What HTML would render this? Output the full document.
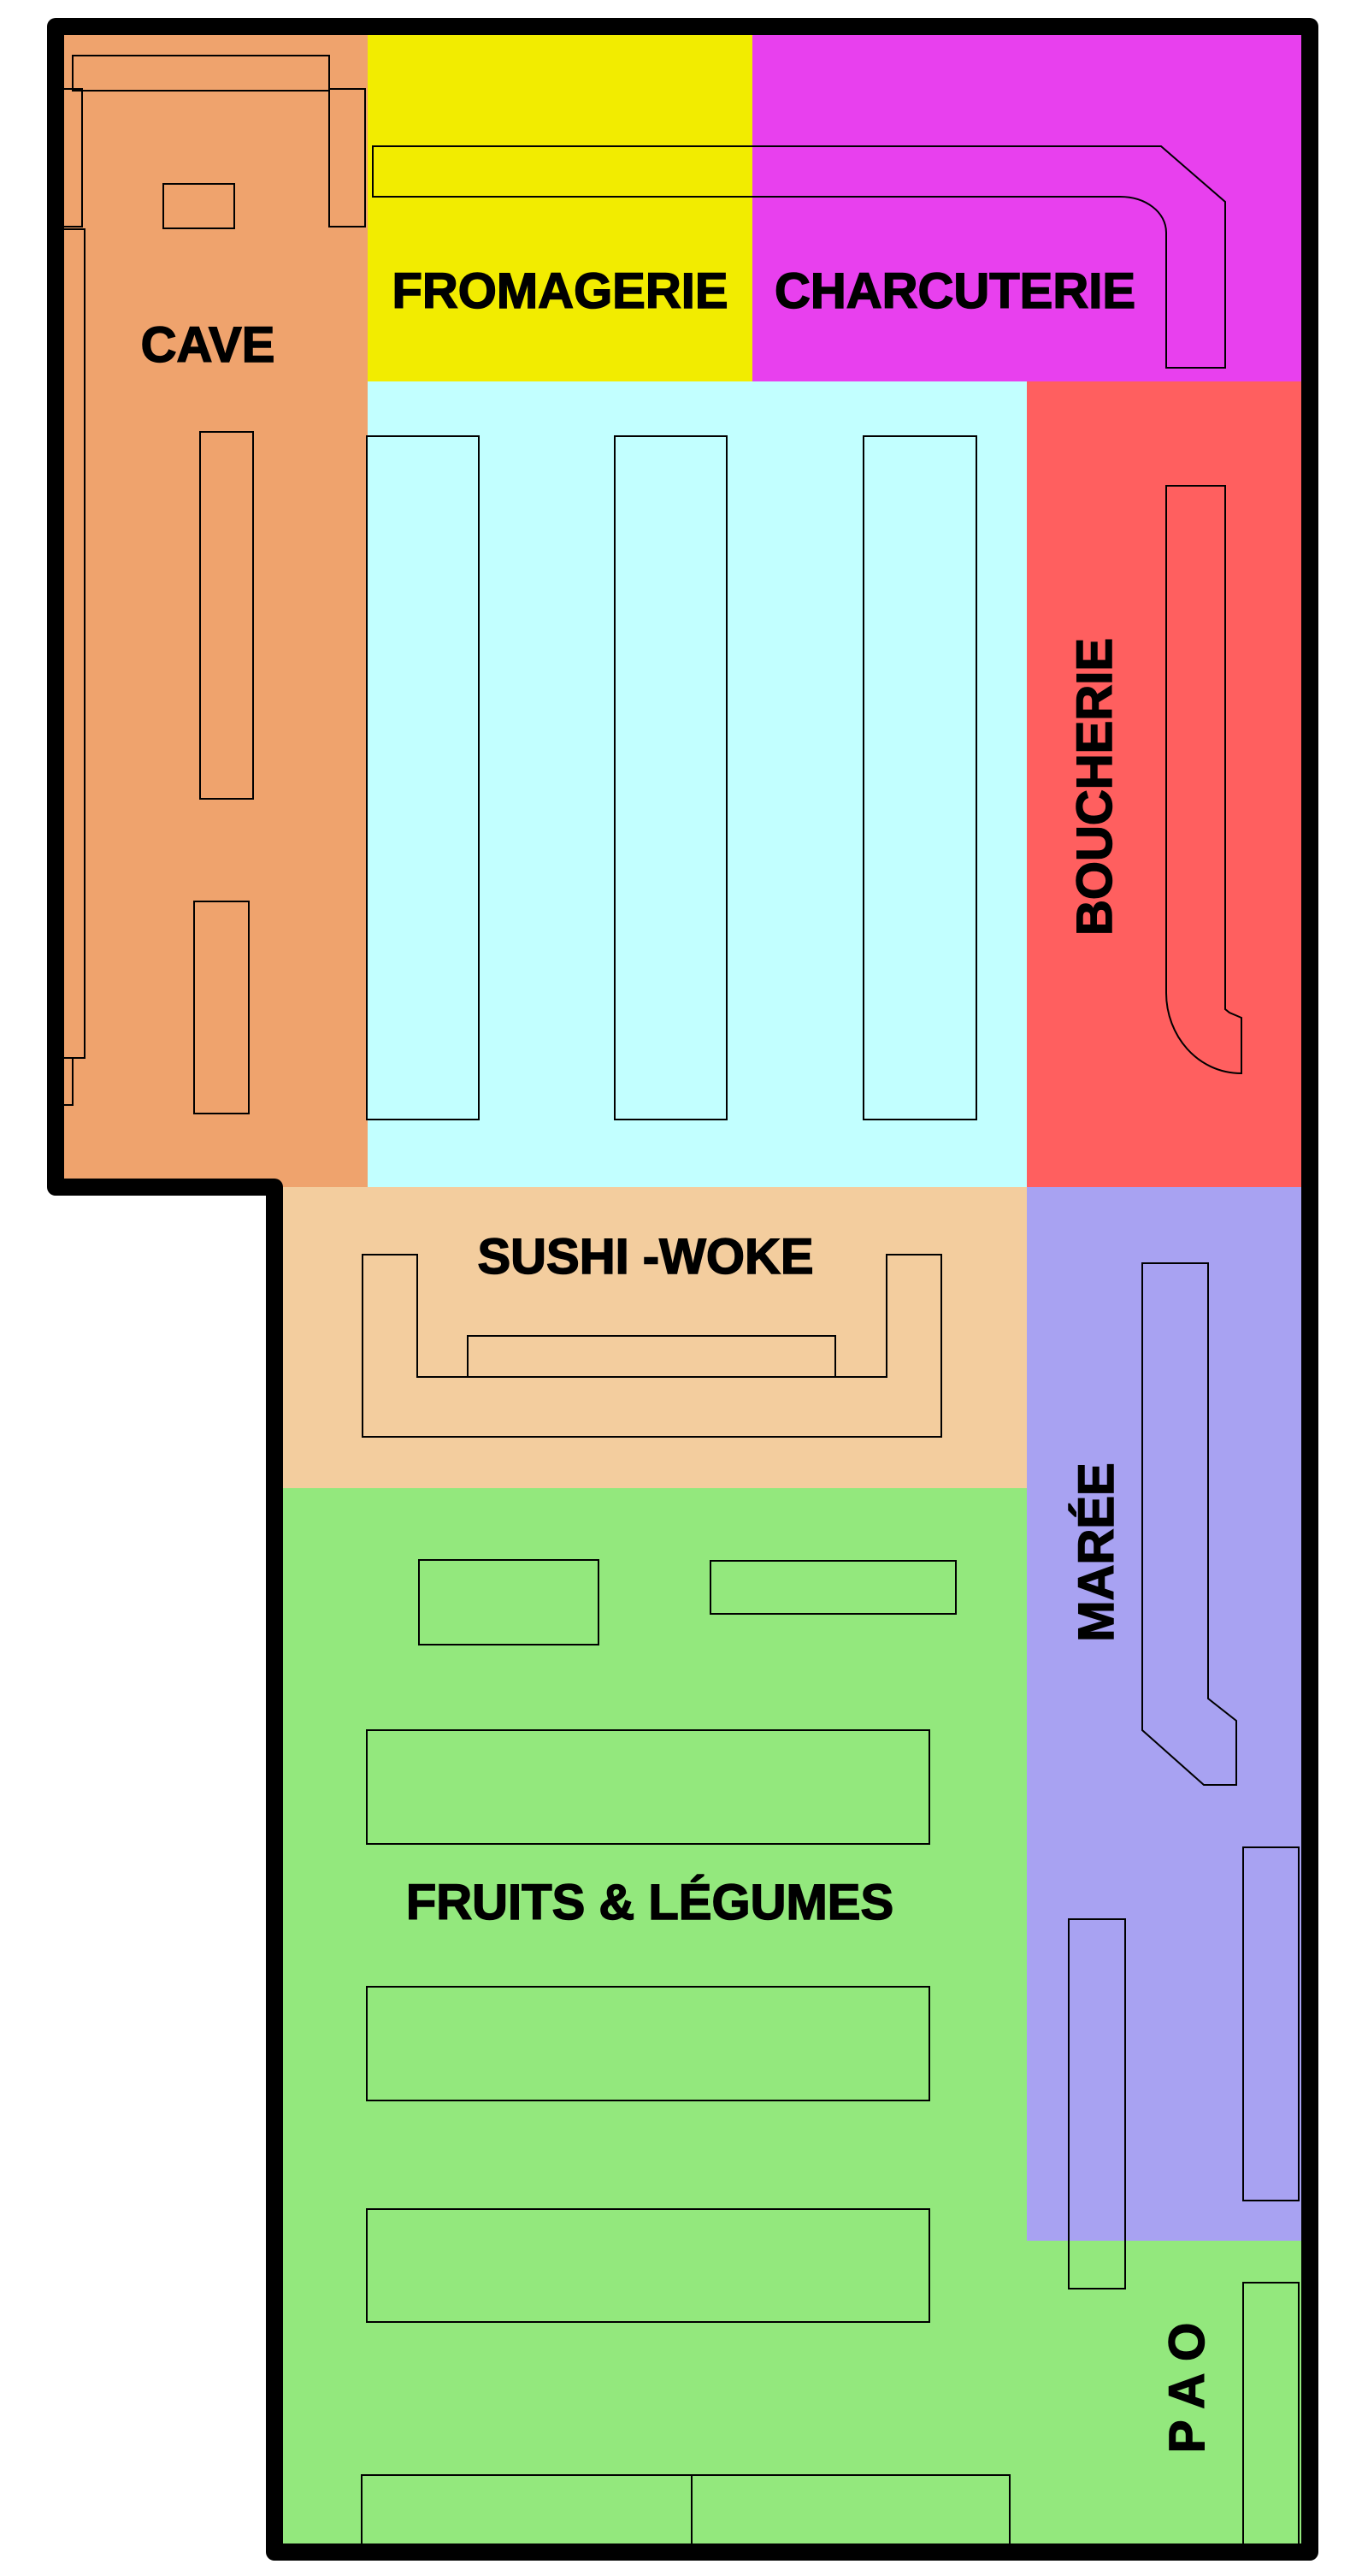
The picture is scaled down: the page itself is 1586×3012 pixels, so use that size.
<!DOCTYPE html>
<html><head><meta charset="utf-8"><style>html,body{margin:0;padding:0;background:#fff}svg{display:block}</style></head>
<body>
<svg width="1586" height="3012" viewBox="0 0 1586 3012" xmlns="http://www.w3.org/2000/svg">
<g stroke="none">
<rect x="65" y="31" width="366" height="1357" fill="#EFA36D"/>
<rect x="430" y="31" width="451" height="415" fill="#F2EC00"/>
<rect x="880" y="31" width="652" height="415" fill="#E840EE"/>
<rect x="430" y="446" width="772" height="943" fill="#C2FFFF"/>
<rect x="1201" y="446" width="331" height="943" fill="#FF5F5F"/>
<rect x="321" y="1388" width="881" height="352" fill="#F3CD9E"/>
<rect x="321" y="1740" width="881" height="1244" fill="#93E87D"/>
<rect x="1201" y="1388" width="331" height="1232" fill="#A8A2F2"/>
<rect x="1201" y="2620" width="331" height="364" fill="#93E87D"/>
</g>
<g fill="none" stroke="#000" stroke-width="2">
<rect x="85" y="65" width="300" height="41"/>
<rect x="74" y="104" width="22" height="161"/>
<rect x="385" y="104" width="42" height="161"/>
<rect x="191" y="215" width="83" height="52"/>
<rect x="74" y="268" width="25" height="969"/>
<rect x="74" y="1237" width="11" height="55"/>
<rect x="234" y="505" width="62" height="429"/>
<rect x="227" y="1054" width="64" height="248"/>
<path d="M436,171 H1358 L1433,236 V430 H1364 V272 C1364,248 1340,230 1310,230 H436 Z"/>
<rect x="429" y="510" width="131" height="799"/>
<rect x="719" y="510" width="131" height="799"/>
<rect x="1010" y="510" width="132" height="799"/>
<path d="M1364,568 H1433 V1180 L1438,1184 L1452,1190 V1255 C1400,1255 1364,1210 1364,1161 Z"/>
<path d="M424,1467 H488 V1610 H1037 V1467 H1101 V1680 H424 Z"/>
<rect x="547" y="1562" width="430" height="48"/>
<rect x="490" y="1824" width="210" height="99"/>
<rect x="831" y="1825" width="287" height="62"/>
<rect x="429" y="2023" width="658" height="133"/>
<rect x="429" y="2323" width="658" height="133"/>
<rect x="429" y="2583" width="658" height="132"/>
<rect x="423" y="2894" width="386" height="85"/>
<rect x="809" y="2894" width="372" height="85"/>
<path d="M1336,1477 H1413 V1986 L1446,2012 V2087 H1408 L1336,2023 Z"/>
<rect x="1454" y="2160" width="65" height="413"/>
<rect x="1250" y="2244" width="66" height="432"/>
<rect x="1454" y="2669" width="65" height="320"/>
</g>
<path d="M65,31 H1532 V2984 H321 V1388 H65 Z" fill="none" stroke="#000" stroke-width="20" stroke-linejoin="round"/>
<g font-family="Liberation Sans, Arial, sans-serif" font-weight="bold" font-size="58" fill="#000" stroke="#000" stroke-width="1.5" text-anchor="middle">
<text x="243" y="423">CAVE</text>
<text x="655" y="360">FROMAGERIE</text>
<text x="1117" y="360">CHARCUTERIE</text>
<text transform="translate(1300,920) rotate(-90)" x="0" y="0">BOUCHERIE</text>
<text x="755" y="1489">SUSHI -WOKE</text>
<text x="760" y="2244">FRUITS &amp; LÉGUMES</text>
<text transform="translate(1302,1815) rotate(-90)" x="0" y="0">MARÉE</text>
<text transform="translate(1408,2792) rotate(-90)" x="0" y="0">P A O</text>
</g>
</svg>
</body></html>
